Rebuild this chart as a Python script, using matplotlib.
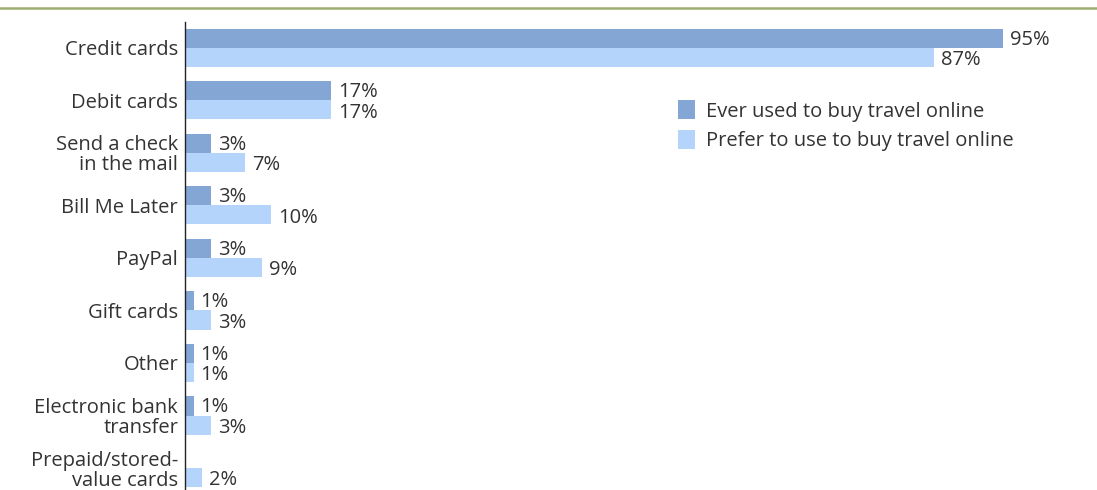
import matplotlib
matplotlib.use("Agg")
import matplotlib.pyplot as plt
from matplotlib.patches import Patch
from matplotlib.lines import Line2D
import numpy as np

categories = ["Credit cards", "Debit cards", "Send a check\nin the mail", "Bill Me Later",
              "PayPal", "Gift cards", "Other", "Electronic bank\ntransfer",
              "Prepaid/stored-\nvalue cards"]
ever_used = [95, 17, 3, 3, 3, 1, 1, 1, None]
prefer = [87, 17, 7, 10, 9, 3, 1, 3, 2]
series_names = ["Ever used to buy travel online", "Prefer to use to buy travel online"]

dark = "#84a6d4"
light = "#b5d4fb"
text_col = "#333333"
font = "Open Sans"

fig = plt.figure(figsize=(10.97, 4.9), dpi=100)
W, H = 1097, 490
ax = fig.add_axes([185 / W, 0, (W - 185) / W, (490 - 22) / H])

y = np.arange(len(categories))
bh = 0.362
ev = [v if v is not None else 0 for v in ever_used]
ax.barh(y - bh / 2, ev, height=bh, color=dark, edgecolor="none")
ax.barh(y + bh / 2, prefer, height=bh, color=light, edgecolor="none")

for i, (a, b) in enumerate(zip(ever_used, prefer)):
    if a is not None:
        ax.annotate(f"{a}%", (a, i - bh / 2), xytext=(5, -1), textcoords="offset points",
                    va="center", ha="left", fontsize=14.5, color=text_col, family=font)
    ax.annotate(f"{b}%", (b, i + bh / 2), xytext=(5, -2), textcoords="offset points",
                va="center", ha="left", fontsize=14.5, color=text_col, family=font)

ax.set_xlim(0, (W - 185) / 8.61)
ax.set_ylim(8.419, -0.495)
ax.set_yticks(y)
ax.set_yticklabels(categories, fontsize=14.5, color=text_col, family=font,
                   linespacing=1.0)
ax.tick_params(axis="y", length=0, pad=5)
ax.set_xticks([])
for s in ["top", "right", "bottom"]:
    ax.spines[s].set_visible(False)
ax.spines["left"].set_color("#222222")
ax.spines["left"].set_linewidth(1.0)

handles = [Patch(facecolor=dark, edgecolor="none"), Patch(facecolor=light, edgecolor="none")]
fig.legend(handles, series_names, loc="upper left", bbox_to_anchor=(660 / W, 1 - 82 / H),
           frameon=False, handlelength=0.85, handleheight=1.1,
           handletextpad=0.55, labelspacing=0.4, labelcolor=text_col,
           prop={"family": font, "size": 14.5})

fig.add_artist(Line2D([0, 1], [1 - 8 / H, 1 - 8 / H], transform=fig.transFigure,
                      color="#9faf72", linewidth=1.8))

fig.savefig("out.png", dpi=100)
